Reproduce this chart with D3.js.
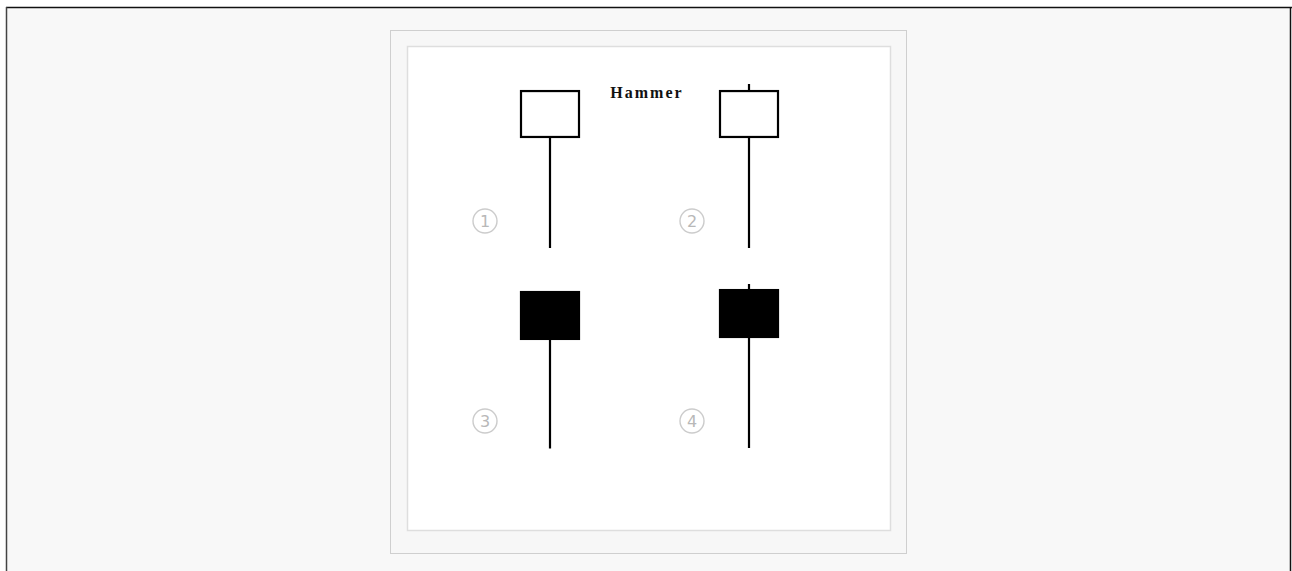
<!DOCTYPE html>
<html>
<head>
<meta charset="utf-8">
<script src="https://cdn.jsdelivr.net/npm/d3@7"></script>
<style>
  html, body { margin: 0; padding: 0; background: #ffffff; }
  svg { display: block; }
</style>
</head>
<body>
<svg id="chart" width="1292" height="571"></svg>
<script>
// данные свечей (цена в условных единицах 0..10 внутри ряда)
const candleLabels = ["1", "2", "3", "4"];
const candleCols = [0, 1, 0, 1];
const candleRows = [0, 0, 1, 1];
const openValues  = [6.77, 6.77, 9.51, 9.63];
const closeValues = [9.57, 9.57, 6.65, 6.77];
const highValues  = [9.57, 10.0, 9.51, 10.0];
const lowValues   = [0.0, 0.0, -0.03, 0.0];
const chartTitle = "Hammer";

const candles = candleLabels.map((label, i) => ({
    label: label,
    col: candleCols[i],
    row: candleRows[i],
    open: openValues[i],
    close: closeValues[i],
    high: highValues[i],
    low: lowValues[i]
}));

const svg = d3.select("#chart");

// фон страницы и рамка
svg.append("rect").attr("x", 6).attr("y", 7).attr("width", 1285).attr("height", 570)
    .attr("fill", "#f8f8f8");
svg.append("line").attr("x1", 6).attr("x2", 1292).attr("y1", 7.5).attr("y2", 7.5)
    .attr("stroke", "#111").attr("stroke-width", 1.5);
svg.append("line").attr("x1", 6.5).attr("x2", 6.5).attr("y1", 7).attr("y2", 571)
    .attr("stroke", "#444").attr("stroke-width", 1.5);
svg.append("line").attr("x1", 1290.5).attr("x2", 1290.5).attr("y1", 7).attr("y2", 571)
    .attr("stroke", "#111").attr("stroke-width", 1.5);

// рамка картинки
svg.append("rect").attr("x", 390.5).attr("y", 30.5).attr("width", 516).attr("height", 523)
    .attr("fill", "#f7f7f7").attr("stroke", "#cfcfcf");
svg.append("rect").attr("x", 407.5).attr("y", 46.5).attr("width", 483).attr("height", 484)
    .attr("fill", "#ffffff").attr("stroke", "#dedede").attr("stroke-width", 1.5);

// шкалы
const scaleX = d3.scalePoint().domain([0, 1]).range([550, 749]);
const scaleRow = d3.scalePoint().domain([0, 1]).range([0, 200]);
const scaleY = d3.scaleLinear().domain([0, 10]).range([248, 84]);
const bodyWidth = 58;

const g = svg.append("g");

// заголовок
g.append("text")
    .attr("x", 647).attr("y", 98)
    .attr("text-anchor", "middle")
    .attr("font-family", "'Liberation Serif', serif")
    .attr("font-weight", "bold")
    .attr("font-size", 16)
    .attr("letter-spacing", 2)
    .attr("fill", "#111")
    .text(chartTitle);

const candle = g.selectAll(".candle")
    .data(candles)
    .enter()
    .append("g")
    .attr("class", "candle")
    .attr("transform", d => `translate(0, ${scaleRow(d.row)})`);

// фитиль
candle.append("line")
    .attr("x1", d => scaleX(d.col))
    .attr("x2", d => scaleX(d.col))
    .attr("y1", d => scaleY(d.high))
    .attr("y2", d => scaleY(d.low))
    .attr("stroke", "#000")
    .attr("stroke-width", 2.2);

// тело свечи
candle.append("rect")
    .attr("x", d => scaleX(d.col) - bodyWidth / 2)
    .attr("y", d => scaleY(Math.max(d.open, d.close)))
    .attr("width", bodyWidth)
    .attr("height", d => Math.abs(scaleY(d.open) - scaleY(d.close)))
    .attr("fill", d => d.close >= d.open ? "#fff" : "#000")
    .attr("stroke", "#000")
    .attr("stroke-width", 2.2);

// номера в кружках
const labelPrice = 1.65;
const labelShift = d => d.col === 0 ? -65 : -57;
candle.append("circle")
    .attr("cx", d => scaleX(d.col) + labelShift(d))
    .attr("cy", scaleY(labelPrice))
    .attr("r", 12)
    .attr("fill", "none")
    .attr("stroke", "#cccccc")
    .attr("stroke-width", 1.4);

candle.append("text")
    .attr("x", d => scaleX(d.col) + labelShift(d))
    .attr("y", scaleY(labelPrice) + 6)
    .attr("text-anchor", "middle")
    .attr("font-family", "'DejaVu Sans', sans-serif")
    .attr("font-size", 16)
    .attr("fill", "#b8b8b8")
    .text(d => d.label);
</script>
</body>
</html>
